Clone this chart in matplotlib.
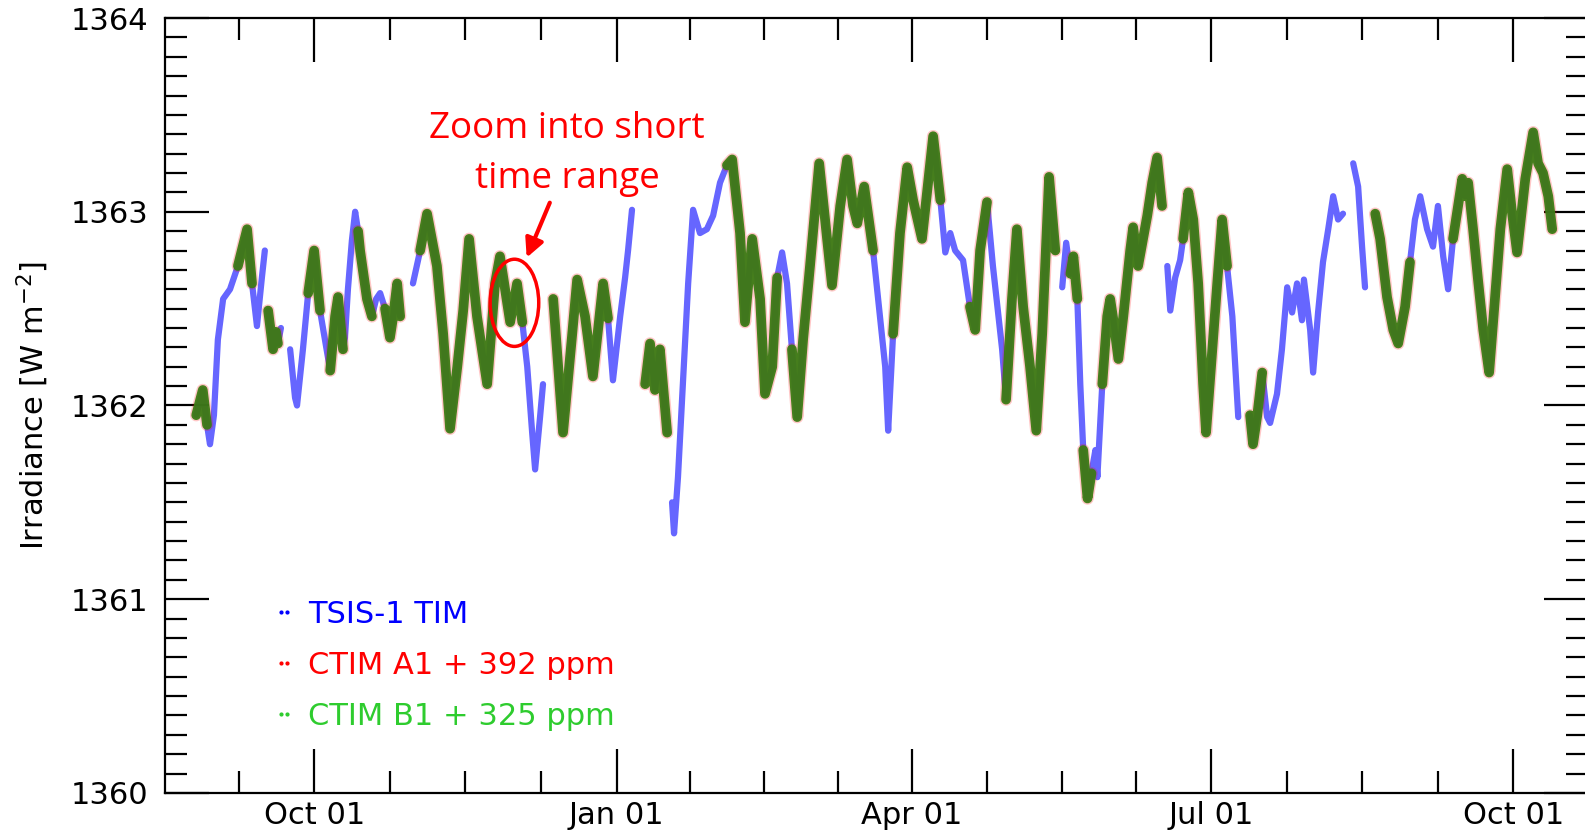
import numpy as np
import matplotlib
matplotlib.use("Agg")
import matplotlib.pyplot as plt
import matplotlib.dates as mdates
from matplotlib.patches import Ellipse
from matplotlib.lines import Line2D
from matplotlib.ticker import FixedLocator

plt.rc('font', family='DejaVu Sans', size=22)

# days counted from 2022-10-01 ; nan marks a data gap
tsis_day = [-36, -34, -32.7, -31.8, -30.6, -29.4, -27.8, -25.7, -23.3, -20.5, -19.0, -17.5, -16.0, -15.1,
            -14.6,
            -14.1, -12.6, -11.7, -11.1, -10.2,
            -8.8,
            -7.4, -5.9, -5.3, -3.5, -1.9, -0.1, 1.7, 4.1, 4.8, 6.3, 7.2, 8.7, 9.3, 10.2, 11.4, 12.4, 13.3,
            13.9, 16.0, 17.5, 18.8, 20.0, 21.5, 23.0, 23.9, 25.2, 26.1,
            28,
            30.0, 32.2, 34.3, 37.3, 39.2, 41.3, 43.5, 45.3, 47.1, 49.5, 52.6, 55.0, 56.5, 59.6, 61.7, 63.3,
            64.8, 66.3, 67.2, 68.7, 69.6,
            71,
            72.7, 75.7, 78.5, 80.0, 82.4, 84.8, 87.9, 89.4, 90.9, 93.1, 94.6, 95.5, 96.7,
            98,
            100.7, 102.2, 103.7, 105.2, 107.4,
            108.2,
            108.9, 109.5, 110.7, 112.2, 113.8, 115.3, 117.4, 119.5, 121.4, 123.5, 125.6, 127.2, 129.6,
            131.1, 133.3, 135.7, 137.2, 139.4, 140.9, 142.4, 143.9, 145.4, 147.0, 148.8, 150.9, 153.7,
            156.1, 157.6, 160.1, 162.2, 164.0, 165.3, 167.4, 170.1, 172.2, 173.8, 174.7, 176.2, 178.3,
            180.5, 182.3, 185.0, 188.4, 190.6, 192.1, 193.6, 195.1, 197.5, 199.6, 201.2, 202.7, 204.8,
            206.6, 209.4, 210.6, 212.4, 213.9, 215.8, 217.9, 219.8, 221.6, 223.7, 225.6,
            226.6,
            227.7, 228.9, 230.2, 231.1, 232.3, 233.2, 234.1, 235.4, 236.6, 237.8, 238.4, 239.9, 241.4,
            242.3, 243.2, 244.8, 246.3, 248.4, 249.3, 250.8, 253.6, 255.1, 256.6, 258.1,
            258.9,
            259.7, 260.6, 262.1, 263.6, 264.5, 266.1, 267.6, 269.1, 270.6, 271.5, 273.4, 274.9, 276.4,
            277.9, 279.5, 280.4, 281.3,
            283,
            284.9, 285.8, 287.1, 288.6, 290.1, 291.0, 293.1, 294.6, 296.2, 297.7, 299.2, 300.7, 301.3,
            303.2, 304.1, 305.6, 307.1, 308.7, 310.2, 311.7, 313.2,
            314.7,
            316.3, 317.8, 319.0, 319.9,
            321.5,
            323.0, 324.5, 326.6, 328.5, 330.0, 332.1, 333.6, 335.1, 336.7, 338.8, 340.6, 342.1, 343.7,
            345.2, 346.7, 349.5, 350.4, 351.3, 352.8, 354.3, 355.9, 357.7, 359.5, 361.1, 363.2, 364.7,
            366.2, 368.7, 371.1, 372.6, 374.1, 375.7, 376.9]

nan = np.nan
tsis_irr = [1361.95, 1362.08, 1361.90, 1361.80, 1361.95, 1362.34, 1362.55, 1362.60, 1362.72, 1362.91,
            1362.63, 1362.41, 1362.66, 1362.80,
            nan,
            1362.49, 1362.29, 1362.38, 1362.32, 1362.40,
            nan,
            1362.29, 1362.04, 1362.00, 1362.29, 1362.58, 1362.80, 1362.49, 1362.25, 1362.18, 1362.46,
            1362.56, 1362.29, 1362.35, 1362.60, 1362.85, 1363.00, 1362.90, 1362.80, 1362.55, 1362.46,
            1362.55, 1362.58, 1362.50, 1362.35, 1362.45, 1362.63, 1362.46,
            nan,
            1362.63, 1362.80, 1362.99, 1362.72, 1362.37, 1361.88, 1362.20, 1362.49, 1362.86, 1362.46,
            1362.11, 1362.63, 1362.77, 1362.43, 1362.63, 1362.43, 1362.20, 1361.86, 1361.67, 1361.94,
            1362.11,
            nan,
            1362.55, 1361.86, 1362.37, 1362.65, 1362.46, 1362.15, 1362.63, 1362.45, 1362.13, 1362.46,
            1362.66, 1362.80, 1363.01,
            nan,
            1362.11, 1362.32, 1362.08, 1362.29, 1361.86,
            nan,
            1361.50, 1361.34, 1361.63, 1362.11, 1362.63, 1363.01, 1362.89, 1362.91, 1362.98, 1363.15,
            1363.24, 1363.27, 1362.89, 1362.43, 1362.86, 1362.55, 1362.06, 1362.20, 1362.66, 1362.79,
            1362.63, 1362.29, 1361.94, 1362.34, 1362.72, 1363.25, 1362.86, 1362.62, 1363.03, 1363.27,
            1363.03, 1362.94, 1363.13, 1362.80, 1362.46, 1362.20, 1361.87, 1362.37, 1362.89, 1363.23,
            1363.06, 1362.86, 1363.39, 1363.06, 1362.79, 1362.89, 1362.80, 1362.75, 1362.51, 1362.39,
            1362.80, 1363.05, 1362.72, 1362.29, 1362.03, 1362.55, 1362.91, 1362.51, 1362.20, 1361.87,
            1362.37, 1363.18, 1362.80,
            nan,
            1362.61, 1362.84, 1362.68, 1362.77, 1362.55, 1362.11, 1361.77, 1361.52, 1361.65, 1361.77,
            1361.63, 1362.11, 1362.46, 1362.55, 1362.45, 1362.24, 1362.46, 1362.80, 1362.92, 1362.72,
            1362.98, 1363.15, 1363.28, 1363.03,
            nan,
            1362.72, 1362.49, 1362.66, 1362.75, 1362.86, 1363.10, 1362.96, 1362.63, 1362.11, 1361.86,
            1362.29, 1362.63, 1362.96, 1362.72, 1362.46, 1362.20, 1361.94,
            nan,
            1361.95, 1361.80, 1361.95, 1362.17, 1361.94, 1361.91, 1362.06, 1362.29, 1362.61, 1362.48,
            1362.63, 1362.44, 1362.65, 1362.39, 1362.17, 1362.48, 1362.74, 1362.91, 1363.08, 1362.96,
            1362.99,
            nan,
            1363.25, 1363.13, 1362.82, 1362.61,
            nan,
            1362.99, 1362.86, 1362.56, 1362.39, 1362.32, 1362.51, 1362.74, 1362.96, 1363.08, 1362.91,
            1362.82, 1363.03, 1362.77, 1362.60, 1362.86, 1363.17, 1363.08, 1363.15, 1362.91, 1362.65,
            1362.39, 1362.17, 1362.56, 1362.91, 1363.22, 1362.99, 1362.79, 1363.17, 1363.41, 1363.25,
            1363.20, 1363.08, 1362.91]

# periods (days from 2022-10-01) where CTIM A1/B1 have data; after the
# ppm offsets they sit on top of the TSIS values
ctim_periods = [(-36, -32.7), (-23.3, -19.0), (-14.1, -11.1), (-1.9, 1.7), (4.8, 8.7),
                (13.3, 17.5), (21.5, 26.1), (32.2, 63.3), (72.7, 89.4), (100.7, 107.4),
                (125.6, 140.9), (145.4, 170.1), (176.2, 190.6), (199.6, 204.8), (210.6, 225.6),
                (230.2, 232.3), (234.1, 236.6), (239.9, 258.1), (264.5, 277.9), (284.9, 288.6),
                (323.0, 333.6), (346.7, 376.9)]

labels = ["TSIS-1 TIM", "CTIM A1 + 392 ppm", "CTIM B1 + 325 ppm"]
colors = ["#0000ff", "#ff0000", "#2ecc2e"]
major_dates = ['2022-10-01', '2023-01-01', '2023-04-01', '2023-07-01', '2023-10-01']

base = mdates.date2num(np.datetime64('2022-10-01'))
day = np.array(tsis_day)
irr = np.array(tsis_irr)
t = base + day

fig = plt.figure(figsize=(15.85, 8.34), dpi=100)
ax = fig.add_axes([0.1041, 0.0492, 0.8978, 0.9292])

ax.plot(t, irr, color="#0000ff", lw=4.5, alpha=0.6, solid_capstyle='round', zorder=2)
for a, b in ctim_periods:
    m = (day >= a) & (day <= b)
    ax.plot(t[m], irr[m], color="#ff0000", lw=9, alpha=0.22, solid_capstyle='round', zorder=3)
    ax.plot(t[m], irr[m], color="#3c7a14", lw=7, alpha=0.95, solid_capstyle='round', zorder=4)

# annotation
ax.add_patch(Ellipse((base + 60.9, 1362.53), width=14.8, height=0.45, fill=False,
                     ec="red", lw=2.5, zorder=6))
ax.annotate("", xy=(base + 64.3, 1362.75), xytext=(base + 72.0, 1363.06),
            arrowprops=dict(arrowstyle='-|>', color='red', lw=3, mutation_scale=28), zorder=6)
ax.text(base + 76.9, 1363.30, "Zoom into short\ntime range", color="red", ha="center",
        va="center", fontsize=26.5, family="Open Sans", linespacing=1.52)

handles = [Line2D([], [], color=c, marker='.', linestyle='none', markersize=4) for c in colors]
leg = ax.legend(handles, labels, loc="upper left", bbox_to_anchor=(0.060, 0.285), frameon=False,
                numpoints=2, handlelength=0.4, handletextpad=0.6, labelspacing=0.72, fontsize=22)
for txt, c in zip(leg.get_texts(), colors):
    txt.set_color(c)

# major ticks every quarter, three minor ticks splitting each quarter
majors = mdates.date2num(np.array(major_dates, dtype='datetime64[D]'))
minors = []
for i in range(len(majors) - 1):
    step = (majors[i + 1] - majors[i]) / 4
    minors += [majors[i] + k * step for k in (1, 2, 3)]
first = (majors[1] - majors[0]) / 4
last = (majors[-1] - majors[-2]) / 4
minors += [majors[0] - k * first for k in (1, 2, 3)]
minors += [majors[-1] + k * last for k in (1, 2, 3)]

ax.set_xlim(base - 45.5, base + 387.8)
ax.set_ylim(1360, 1364)
ax.xaxis.set_major_locator(FixedLocator(majors))
ax.xaxis.set_minor_locator(FixedLocator(minors))
ax.xaxis.set_major_formatter(mdates.DateFormatter('%b %d'))
ax.yaxis.set_major_locator(plt.MultipleLocator(1))
ax.yaxis.set_minor_locator(plt.MultipleLocator(0.1))
ax.yaxis.set_major_formatter(plt.FormatStrFormatter('%d'))

ax.tick_params(which="both", direction="in", top=True, right=True, width=1.6)
ax.tick_params(which="major", length=32, pad=12)
ax.tick_params(axis="x", which="major", pad=6)
ax.tick_params(which="minor", length=16)
for s in ax.spines.values():
    s.set_linewidth(1.6)

ax.set_ylabel(r"Irradiance [W m$^{-2}$]", labelpad=14)

fig.savefig("out.png", dpi=100)
